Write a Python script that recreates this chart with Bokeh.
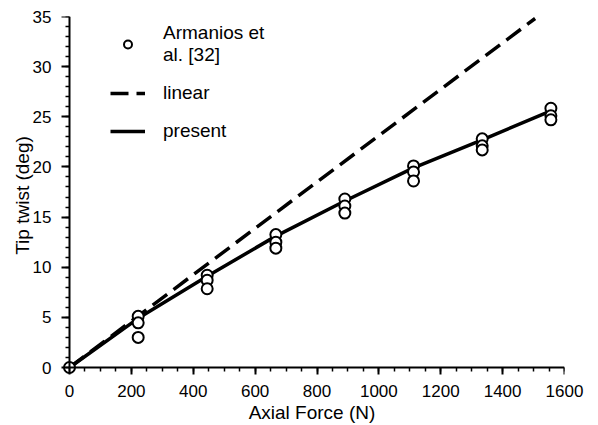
from bokeh.plotting import figure
from bokeh.models import (Range1d, Legend, LegendItem, SingleIntervalTicker, LinearAxis,
                          CustomJSTickFormatter)
from bokeh.embed import file_html
from bokeh.resources import INLINE

# Experimental data (Armanios et al. [32]) - several readings per load level
exp_force = [0, 222, 222, 222, 445, 445, 445, 667, 667, 667, 890, 890, 890,
             1112, 1112, 1112, 1334, 1334, 1334, 1556, 1556, 1556]
exp_twist = [0, 5.1, 4.45, 3.0, 9.2, 8.7, 7.85, 13.25, 12.5, 11.9, 16.8, 16.1, 15.4,
             20.1, 19.5, 18.6, 22.8, 22.1, 21.7, 25.85, 25.1, 24.7]

# Present theory
present_force = [0, 222, 445, 667, 890, 1112, 1334, 1556]
present_twist = [0, 4.9, 9.1, 13.1, 16.6, 19.9, 22.7, 25.6]

# Linear theory
linear_force = [0, 1505]
linear_twist = [0, 34.8]

x_title = "Axial Force (N)"
y_title = "Tip twist (deg)"

FONT = "Liberation Sans"

# small padding of the data ranges so the marker at the origin is not clipped;
# the axis lines themselves are pinned at zero
x_pad = 1600 * 10 / 495
y_pad = 35 * 7 / 351

p = figure(width=598, height=425, output_backend="svg", toolbar_location=None,
           x_range=Range1d(-x_pad, 1600), y_range=Range1d(-y_pad, 35),
           x_axis_type=None, y_axis_type=None,
           min_border_left=59, min_border_right=34, min_border_top=16, min_border_bottom=51)

p.outline_line_color = None
p.background_fill_color = "white"

lin = p.line(linear_force, linear_twist, line_color="black", line_width=3.5,
             line_dash="18 8")
pres = p.line(present_force, present_twist, line_color="black", line_width=3.5)
exp = p.scatter(exp_force, exp_twist, marker="circle", size=11, fill_color="white",
                line_color="black", line_width=2)


def x_ticker():
    return SingleIntervalTicker(interval=200, num_minor_ticks=4)


def y_ticker():
    return SingleIntervalTicker(interval=5, num_minor_ticks=5)


blank = CustomJSTickFormatter(code="return ''")

# axis lines and ticks, pinned at zero
x_line_axis = LinearAxis(ticker=x_ticker(), formatter=blank, fixed_location=0, bounds=(0, 1600))
y_line_axis = LinearAxis(ticker=y_ticker(), formatter=blank, fixed_location=0, bounds=(0, 35))
for ax in (x_line_axis, y_line_axis):
    ax.axis_line_width = 2
    ax.major_tick_line_width = 2
    ax.minor_tick_line_width = 1.5
    ax.major_tick_out = 8
    ax.major_tick_in = 0
    ax.minor_tick_out = 4
    ax.minor_tick_in = 0
p.add_layout(x_line_axis, "below")
p.add_layout(y_line_axis, "left")

# tick labels and axis titles
x_lab_axis = LinearAxis(ticker=x_ticker(), axis_label=x_title)
y_lab_axis = LinearAxis(ticker=y_ticker(), axis_label=y_title)
for ax in (x_lab_axis, y_lab_axis):
    ax.axis_line_color = None
    ax.major_tick_line_color = None
    ax.minor_tick_line_color = None
    ax.major_tick_out = 0
    ax.major_tick_in = 0
    ax.minor_tick_out = 0
    ax.minor_tick_in = 0
    ax.major_label_text_font = FONT
    ax.major_label_text_font_size = "17px"
    ax.major_label_text_color = "black"
    ax.axis_label_text_font = FONT
    ax.axis_label_text_font_size = "19px"
    ax.axis_label_text_font_style = "normal"
    ax.axis_label_text_color = "black"
x_lab_axis.major_label_standoff = 10
y_lab_axis.major_label_standoff = 8
x_lab_axis.axis_label_standoff = 2
y_lab_axis.axis_label_standoff = -3
p.add_layout(x_lab_axis, "below")
p.add_layout(y_lab_axis, "left")

legend = Legend(items=[
    LegendItem(label="Armanios et\nal. [32]", renderers=[exp]),
    LegendItem(label="linear", renderers=[lin]),
    LegendItem(label="present", renderers=[pres]),
])
legend.border_line_color = None
legend.background_fill_alpha = 0
legend.label_text_font = FONT
legend.label_text_font_size = "19px"
legend.label_text_color = "black"
legend.glyph_width = 35
legend.glyph_height = 20
legend.label_height = 20
legend.label_standoff = 18
legend.spacing = 16
legend.margin = 0
legend.padding = 0
legend.location = (51, 232)
p.add_layout(legend)

open("out.html", "w").write(file_html(p, INLINE))
